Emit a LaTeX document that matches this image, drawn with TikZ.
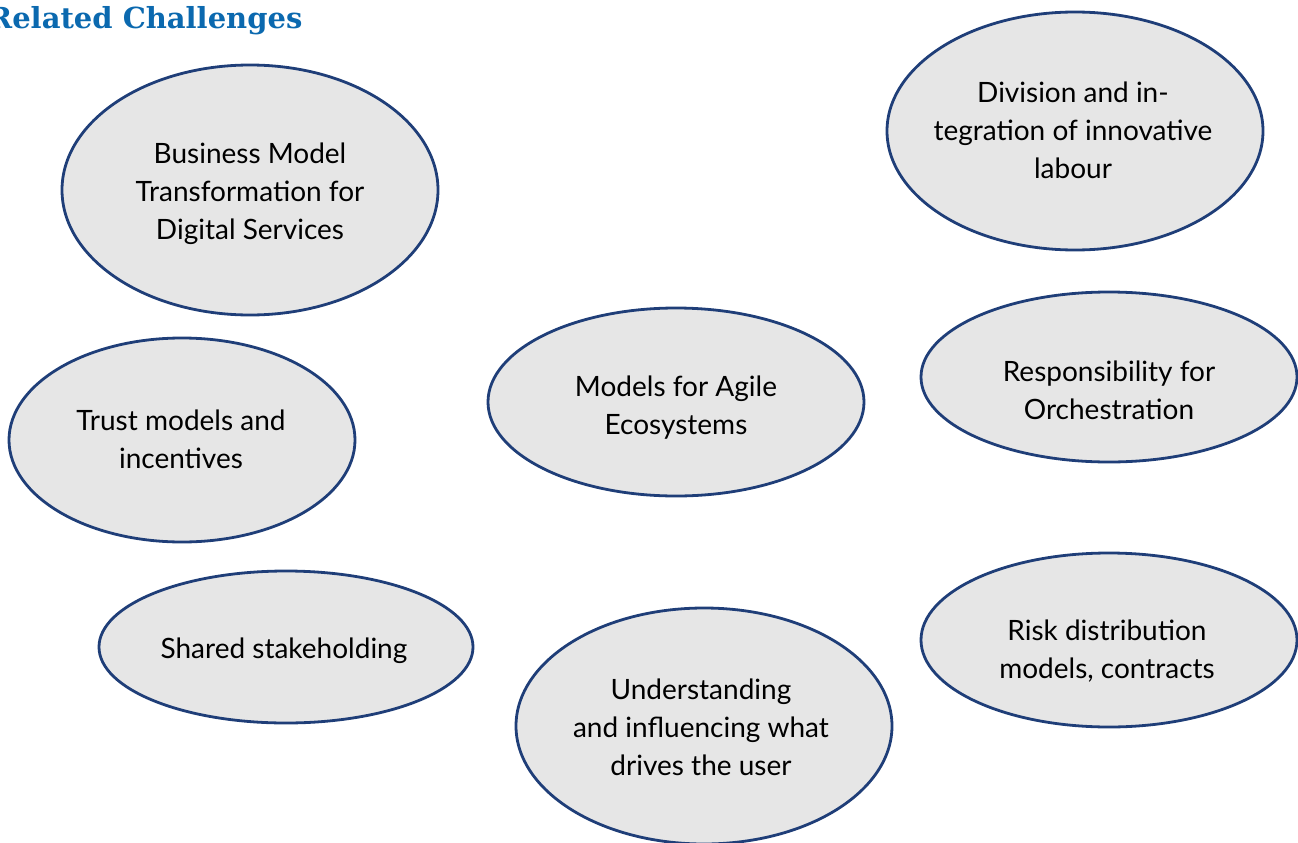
\documentclass[tikz,border=0pt]{standalone}
\usepackage{fontspec}
\setmainfont{Lato}
\newfontfamily\titlefont{DejaVu Serif}
\definecolor{edgeblue}{HTML}{1F3E78}
\definecolor{fillgray}{HTML}{E6E6E6}
\definecolor{titleblue}{HTML}{0B69AF}
\begin{document}
\begin{tikzpicture}[x=1pt,y=-1pt,
  bubble/.style={draw=edgeblue, line width=2.8pt, fill=fillgray},
  label/.style={align=center, font=\fontsize{28}{38}\selectfont, inner sep=0pt},
]
\useasboundingbox (0,0) rectangle (1298,843);
\begin{scope}
\clip (0,0) rectangle (1298,843);
\node[anchor=base west, font=\titlefont\bfseries\fontsize{29}{33}\selectfont, text=titleblue, inner sep=0pt] (title) at (-12,29) {Related Challenges};
\draw[bubble] (250,190) ellipse [x radius=188, y radius=125];
\node[label] (bm) at (250,194) {Business Model\\Transformation for\\Digital Services};
\draw[bubble] (1075,131) ellipse [x radius=188, y radius=119];
\node[label] (div) at (1073,130) {Division and in-\\tegration of innovative\\labour};
\draw[bubble] (676,402) ellipse [x radius=188, y radius=94];
\node[label] (agile) at (676,408) {Models for Agile\\Ecosystems};
\draw[bubble] (1109,377) ellipse [x radius=188, y radius=85];
\node[label] (resp) at (1109,390) {Responsibility for\\Orchestration};
\draw[bubble] (182,440) ellipse [x radius=173, y radius=102];
\node[label] (trust) at (181,439) {Trust models and\\incentives};
\draw[bubble] (286,647) ellipse [x radius=187, y radius=76];
\node[label] (shared) at (284,651) {Shared stakeholding};
\draw[bubble] (704,726) ellipse [x radius=188, y radius=118];
\node[label] (user) at (701,727) {Understanding\\and influencing what\\drives the user};
\draw[bubble] (1109,640) ellipse [x radius=188, y radius=87];
\node[label] (risk) at (1107,651) {Risk distribution\\models, contracts};
\end{scope}
\end{tikzpicture}
\end{document}
